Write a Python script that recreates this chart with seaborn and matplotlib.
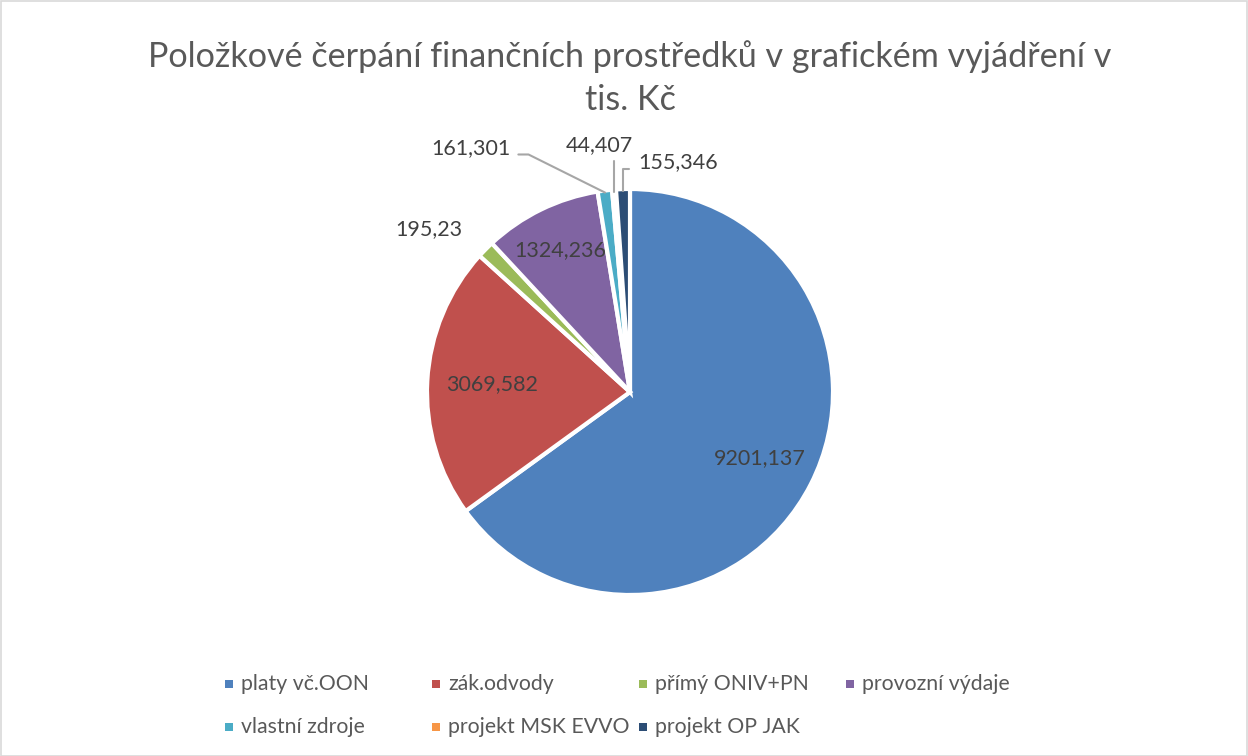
import matplotlib
matplotlib.use('Agg')
import matplotlib.pyplot as plt
import seaborn as sns
import numpy as np
from matplotlib.patches import Rectangle

categories = ['platy vč.OON', 'zák.odvody', 'přímý ONIV+PN', 'provozní výdaje',
              'vlastní zdroje', 'projekt MSK EVVO', 'projekt OP JAK']
values = [9201.137, 3069.582, 195.23, 1324.236, 161.301, 44.407, 155.346]
value_labels = ['9201,137', '3069,582', '195,23', '1324,236', '161,301', '44,407', '155,346']

colors = ['#4F81BD', '#C0504D', '#9BBB59', '#8064A2', '#4BACC6', '#F79646', '#2C4D75']

sns.set_theme(style='white')
plt.rcParams['font.family'] = ['Lato', 'DejaVu Sans']

W, H = 1248, 756
cx, cy, R = 630, 392, 203

fig = plt.figure(figsize=(W / 100, H / 100), dpi=100)
ax = fig.add_axes([0, 0, 1, 1])

wedges, _ = ax.pie(values, colors=colors, startangle=90, counterclock=False,
                   radius=1, wedgeprops=dict(edgecolor='white', linewidth=3))
ax.set_aspect('auto')
ax.set_xlim(-cx / R, (W - cx) / R)
ax.set_ylim(-(H - cy) / R, cy / R)
ax.axis('off')

label_color = '#404040'
leader_color = '#A6A6A6'
fs = 15.5

# inside labels for the big slices
inside = {0: 0.72, 1: 0.68, 3: 0.78}
for i, r in inside.items():
    w = wedges[i]
    mid = np.deg2rad((w.theta1 + w.theta2) / 2)
    ax.text(r * np.cos(mid), r * np.sin(mid), value_labels[i], ha='center', va='center',
            fontsize=fs, color=label_color)

def edge(i, r=1.0):
    w = wedges[i]
    mid = np.deg2rad((w.theta1 + w.theta2) / 2)
    return r * np.cos(mid), r * np.sin(mid)

# přímý ONIV+PN - outside, no leader
x, y = edge(2)
ax.text(x - 0.28, y + 0.10, value_labels[2], ha='center', va='center', fontsize=fs, color=label_color)

# vlastní zdroje
x, y = edge(4, 0.99)
ax.plot([x, -0.50, -0.55], [y, 1.17, 1.17], color=leader_color, lw=1.5)
ax.text(-0.59, 1.20, value_labels[4], ha='right', va='center', fontsize=fs, color=label_color)

# projekt MSK EVVO
x, y = edge(5, 0.99)
ax.plot([x, x], [y, 1.14], color=leader_color, lw=1.5)
ax.text(-0.153, 1.217, value_labels[5], ha='center', va='center', fontsize=fs, color=label_color)

# projekt OP JAK
x, y = edge(6, 0.99)
ax.plot([x, x, x + 0.03], [y, 1.10, 1.10], color=leader_color, lw=1.5)
ax.text(0.04, 1.133, value_labels[6], ha='left', va='center', fontsize=fs, color=label_color)

# title
fig.text(cx / W, 1 - 57 / H, 'Položkové čerpání finančních prostředků v grafickém vyjádření v',
         ha='center', va='center', fontsize=24.6, color='#595959')
fig.text(cx / W, 1 - 100 / H, 'tis. Kč', ha='center', va='center', fontsize=24.6, color='#595959')

# legend, laid out like Excel: 4 equal columns
for i, (name, col) in enumerate(zip(categories, colors)):
    c, r = i % 4, i // 4
    px = 225 + c * 207
    py = 684 + r * 43
    fig.patches.append(Rectangle(((px) / W, 1 - (py + 4) / H), 8 / W, 8 / H,
                                 transform=fig.transFigure, facecolor=col, edgecolor='none'))
    fig.text((px + 16) / W, 1 - py / H, name, ha='left', va='center', fontsize=15.3, color='#595959')

# chart border
fig.patches.append(Rectangle((0.5 / W, 0.5 / H), 1 - 1.5 / W, 1 - 1.5 / H, transform=fig.transFigure,
                             facecolor='none', edgecolor='#D9D9D9', lw=1.2))

fig.savefig('out.png', dpi=100)
